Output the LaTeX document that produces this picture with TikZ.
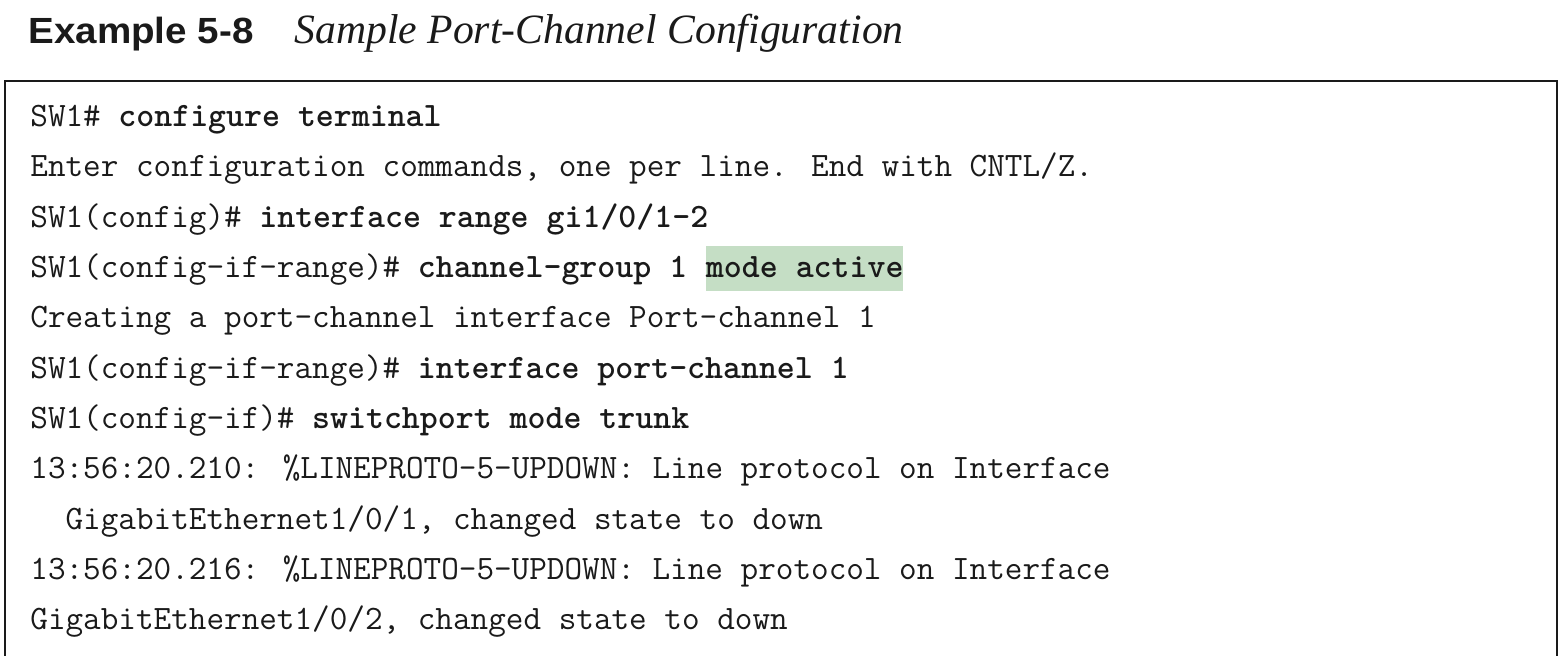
\documentclass[tikz,border=0pt]{standalone}
\usepackage{fontspec}
\newfontfamily\headfont{Liberation Sans}
\newfontfamily\capfont{Liberation Serif}
\usepackage{tikz}
\usetikzlibrary{positioning}
\definecolor{hlgreen}{RGB}{197,222,197}
\definecolor{ink}{RGB}{26,26,26}
\tikzset{cli/.style={anchor=base west, inner sep=0pt, text=ink, font=\ttfamily\fontsize{17.1}{20}\selectfont}}
\tikzset{frame/.style={line width=1pt, draw=ink}}
\newcommand{\cmd}[1]{\textbf{#1}}

\begin{document}
\begin{tikzpicture}[x=0.5pt,y=-0.5pt]
\useasboundingbox (0,0) rectangle (1564,656);
% title
\node[anchor=base west, inner sep=0pt, text=ink, xscale=1.06, font=\headfont\bfseries\fontsize{18.2}{20}\selectfont] (exnum) at (28,43.3) {Example 5-8};
\node[anchor=base west, inner sep=0pt, text=ink, font=\capfont\itshape\fontsize{20.85}{24}\selectfont] (extitle) at (294,43.3) {Sample Port-Channel Configuration};
% box, open at the bottom
\draw[frame] (5,656) -- (5,81) -- (1557,81) -- (1557,656);
% console lines
\node[cli] (l1) at (30,126.7) {SW1\# \cmd{configure terminal}};
\node[cli] (l2) at (30,177.0) {Enter configuration commands, one per line. End with CNTL/Z.};
\node[cli] (l3) at (30,227.3) {SW1(config)\# \cmd{interface range gi1/0/1-2}};
\node[cli] (l4) at (30,277.6) {SW1(config-if-range)\# \cmd{channel-group 1}};
\node[cli, fill=hlgreen, text height=15.8pt, text depth=6.7pt] (act) at ([xshift=8.98pt]l4.base east) {\cmd{mode active}};
\node[cli] (l5) at (30,327.9) {Creating a port-channel interface Port-channel 1};
\node[cli] (l6) at (30,378.2) {SW1(config-if-range)\# \cmd{interface port-channel 1}};
\node[cli] (l7) at (30,428.5) {SW1(config-if)\# \cmd{switchport mode trunk}};
\node[cli] (l8) at (30,478.8) {13:56:20.210: \%LINEPROTO-5-UPDOWN: Line protocol on Interface};
\node[cli] (l9) at (30,529.1) {\phantom{xx}GigabitEthernet1/0/1, changed state to down};
\node[cli] (l10) at (30,579.4) {13:56:20.216: \%LINEPROTO-5-UPDOWN: Line protocol on Interface};
\node[cli] (l11) at (30,629.7) {GigabitEthernet1/0/2, changed state to down};
\end{tikzpicture}
\end{document}
